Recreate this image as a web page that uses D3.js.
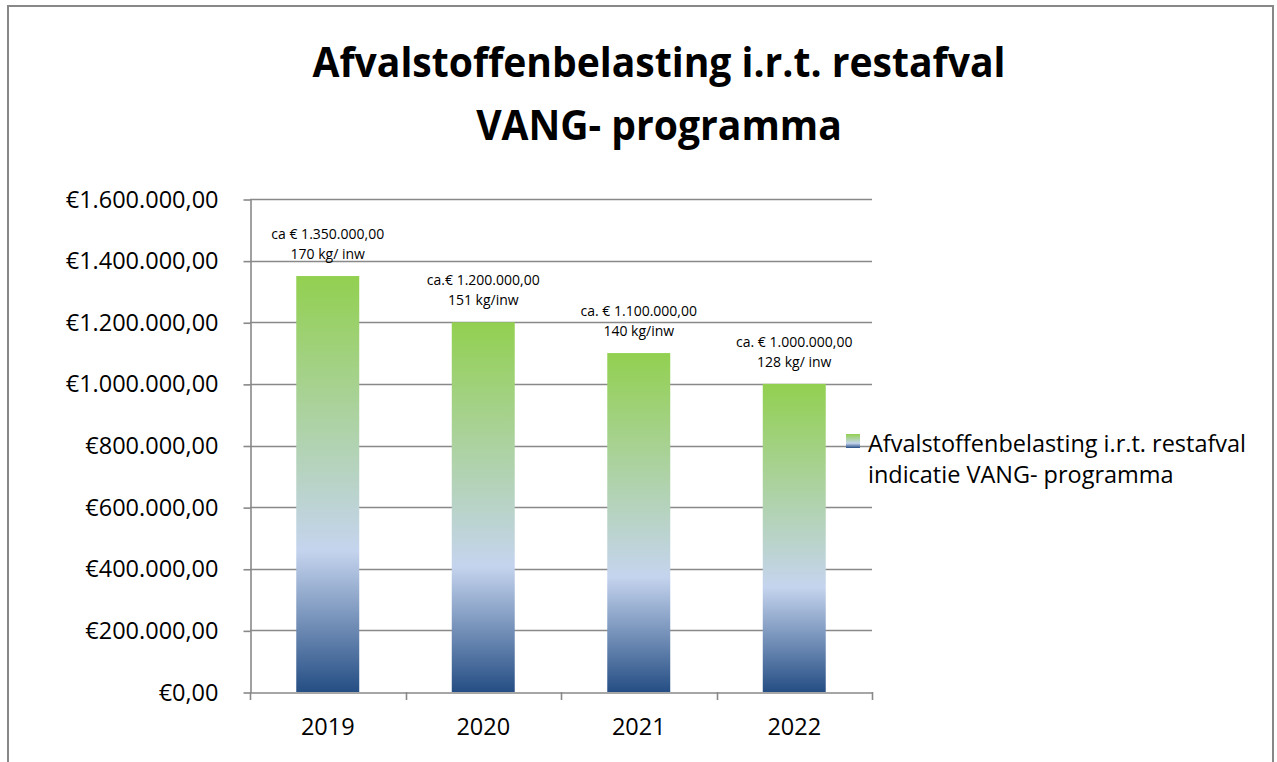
<!DOCTYPE html>
<html>
<head>
<meta charset="utf-8">
<script src="https://cdn.jsdelivr.net/npm/d3@7"></script>
<style>
  html, body { margin: 0; padding: 0; background: #fff; }
  svg { display: block; font-family: "Open Sans", sans-serif; }
</style>
</head>
<body>
<div id="chart"></div>
<script>
// Data
const years = ["2019", "2020", "2021", "2022"];
const amounts = [1350000, 1200000, 1100000, 1000000];
const amountLabels = ["ca € 1.350.000,00", "ca.€ 1.200.000,00", "ca. € 1.100.000,00", "ca. € 1.000.000,00"];
const weightLabels = ["170 kg/ inw", "151 kg/inw", "140 kg/inw", "128 kg/ inw"];
const yTicks = [0, 200000, 400000, 600000, 800000, 1000000, 1200000, 1400000, 1600000];
const titleLines = ["Afvalstoffenbelasting i.r.t. restafval", "VANG- programma"];
const legendLines = ["Afvalstoffenbelasting i.r.t. restafval", "indicatie VANG- programma"];

const data = years.map((y, i) => ({
  year: y,
  amount: amounts[i],
  label1: amountLabels[i],
  label2: weightLabels[i],
}));

//---------------------------------------------------------------------------------------

// canevas
const W = 1277, H = 762;
const plot = { left: 250, right: 872, top: 199, bottom: 692 };
const gridColor = "#898989";

const svg = d3.select("#chart")
  .append("svg")
  .attr("width", W)
  .attr("height", H);

svg.append("rect").attr("width", W).attr("height", H).attr("fill", "#fff");

// cadre extérieur
svg.append("rect")
  .attr("x", 8).attr("y", 6)
  .attr("width", 1265).attr("height", 820)
  .attr("fill", "none")
  .attr("stroke", "#888")
  .attr("stroke-width", 2);

// dégradé des barres
const grad = svg.append("defs")
  .append("linearGradient")
  .attr("id", "barGrad")
  .attr("x1", 0).attr("y1", 0).attr("x2", 0).attr("y2", 1);
grad.append("stop").attr("offset", "0%").attr("stop-color", "#92D050");
grad.append("stop").attr("offset", "66%").attr("stop-color", "#C5D4EE");
grad.append("stop").attr("offset", "100%").attr("stop-color", "#254E84");

// compression horizontale pour imiter Calibri
function condense(sel, targetWidth) {
  const nodes = sel.nodes();
  const k = targetWidth / nodes[0].getComputedTextLength();
  nodes.forEach(n => {
    n.setAttribute("textLength", n.getComputedTextLength() * k);
    n.setAttribute("lengthAdjust", "spacingAndGlyphs");
  });
}

//---------------------------------------------------------------------------------------

// Titre
const title = svg.append("g")
  .selectAll("text")
  .data(titleLines)
  .join("text")
  .attr("x", 659)
  .attr("y", (d, i) => 77 + i * 63)
  .attr("text-anchor", "middle")
  .attr("font-size", 41)
  .attr("font-weight", 700)
  .attr("fill", "#000")
  .text(d => d);
condense(title, 693);

//---------------------------------------------------------------------------------------

// échelles
const x = d3.scaleBand()
  .domain(years)
  .range([plot.left, plot.right])
  .paddingInner(0.595)
  .paddingOuter(0.2975);

const y = d3.scaleLinear()
  .domain([0, 1600000])
  .range([plot.bottom, plot.top]);

const locale = d3.formatLocale({ decimal: ",", thousands: ".", grouping: [3], currency: ["€", ""] });
const fmt = locale.format("$,.2f");

// lignes horizontales
svg.append("g")
  .selectAll("line")
  .data(yTicks.filter(d => d > 0))
  .join("line")
  .attr("x1", plot.left).attr("x2", plot.right)
  .attr("y1", d => Math.round(y(d)) + 0.5).attr("y2", d => Math.round(y(d)) + 0.5)
  .attr("stroke", gridColor)
  .attr("stroke-width", 1.6);

// barres
svg.append("g")
  .selectAll("rect")
  .data(data)
  .join("rect")
  .attr("x", d => x(d.year))
  .attr("y", d => y(d.amount))
  .attr("width", x.bandwidth())
  .attr("height", d => y(0) - y(d.amount))
  .attr("fill", "url(#barGrad)");

// Axe Y
svg.append("g")
  .attr("transform", `translate(${plot.left + 0.5}, 0.5)`)
  .call(d3.axisLeft(y).tickValues(yTicks).tickFormat(fmt).tickSize(7).tickSizeOuter(0).tickPadding(25))
  .call(g => g.selectAll("path, line").attr("stroke", gridColor).attr("stroke-width", 1.6))
  .call(g => g.selectAll("text")
    .attr("fill", "#000")
    .attr("font-size", 23.5)
    .attr("font-family", "Open Sans, sans-serif"));

// Axe X
svg.append("g")
  .attr("transform", `translate(0, ${plot.bottom + 0.5})`)
  .call(d3.axisBottom(x).tickSize(0).tickPadding(26))
  .call(g => g.select(".domain").attr("stroke", gridColor).attr("stroke-width", 1.6))
  .call(g => g.selectAll("text")
    .attr("fill", "#000")
    .attr("font-size", 23.5)
    .attr("font-family", "Open Sans, sans-serif"));

// traits de graduation entre les catégories
const boundaries = d3.range(years.length + 1).map(i => plot.left + i * x.step());
svg.append("g")
  .selectAll("line")
  .data(boundaries)
  .join("line")
  .attr("x1", d => Math.round(d) + 0.5).attr("x2", d => Math.round(d) + 0.5)
  .attr("y1", plot.bottom).attr("y2", plot.bottom + 8)
  .attr("stroke", gridColor)
  .attr("stroke-width", 1.6);

//---------------------------------------------------------------------------------------

// étiquettes des barres
const labels = svg.append("g")
  .selectAll("g")
  .data(data)
  .join("g")
  .attr("transform", d => `translate(${x(d.year) + x.bandwidth() / 2}, ${y(d.amount)})`);

labels.append("text")
  .attr("y", -37)
  .attr("text-anchor", "middle")
  .attr("font-size", 14)
  .text(d => d.label1);

labels.append("text")
  .attr("y", -17)
  .attr("text-anchor", "middle")
  .attr("font-size", 14)
  .text(d => d.label2);

//---------------------------------------------------------------------------------------

// Légende
const legend = svg.append("g").attr("transform", "translate(846, 434)");

legend.append("rect")
  .attr("width", 14).attr("height", 14)
  .attr("fill", "url(#barGrad)");

const legendText = legend.selectAll("text")
  .data(legendLines)
  .join("text")
  .attr("x", 22)
  .attr("y", (d, i) => 18 + i * 31)
  .attr("font-size", 24)
  .attr("fill", "#000")
  .text(d => d);
condense(legendText, 378);
</script>
</body>
</html>
